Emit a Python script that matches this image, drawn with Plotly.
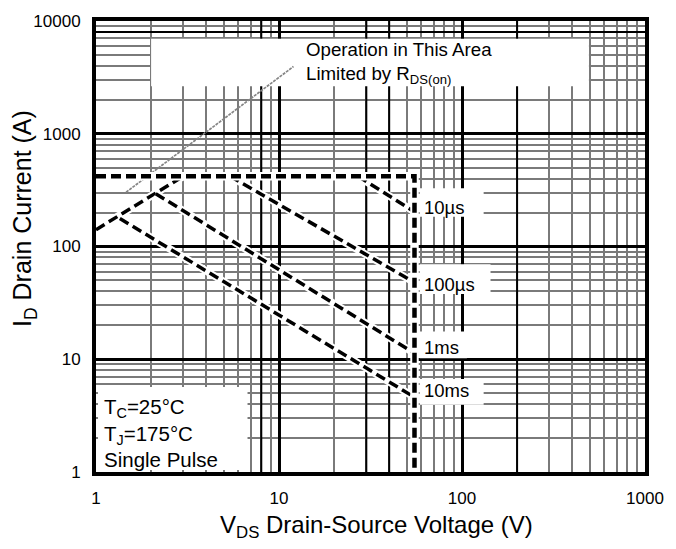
import math
import plotly.graph_objects as go

# ---- data: pulsed safe operating area (V_DS in V, I_D in A) ----
limit_vds = [1, 55, 55]
limit_id = [420, 420, 1]

rds_vds = [1, 3.0]
rds_id = [141, 420]

pulse_labels = ["10µs", "100µs", "1ms", "10ms"]
pulse_vds = [[27, 55], [5.4, 55], [2.12, 55], [1.35, 55]]
pulse_id = [[420, 203], [420, 48], [294, 11.3], [177, 4.6]]

rdson_note_vds = [1.46, 12]
rdson_note_id = [303, 3950]

x_tick_vals = [1, 10, 100, 1000]
y_tick_vals = [1, 10, 100, 1000, 10000]

# ---- geometry helpers ----
W, H = 676, 549
L, R, T, B = 96, 654, 16, 472
X_LOG = (0, 3)
Y_LOG = (0, 4)


def xv(px):
    """pixel column -> voltage value"""
    return 10 ** (X_LOG[0] + (px - L) / (R - L) * (X_LOG[1] - X_LOG[0]))


def yv(py):
    """pixel row -> current value"""
    return 10 ** (Y_LOG[0] + (B - py) / (B - T) * (Y_LOG[1] - Y_LOG[0]))


def px_x(px):
    return (px - L) / (R - L)


def px_y(py):
    return (B - py) / (B - T)


FONT = "Arial, Liberation Sans, sans-serif"
fig = go.Figure()

# thin grey R_DS(on) reference line
fig.add_trace(go.Scatter(x=rdson_note_vds, y=rdson_note_id, mode="lines",
                         line=dict(color="#858585", width=1.7, dash="3px,1px"),
                         hoverinfo="skip", showlegend=False))

DASH = "10px,5px"


def dashed(xs, ys, width=3.5):
    fig.add_trace(go.Scatter(x=xs, y=ys, mode="lines",
                             line=dict(color="white", width=width + 4),
                             hoverinfo="skip", showlegend=False))
    fig.add_trace(go.Scatter(x=xs, y=ys, mode="lines",
                             line=dict(color="black", width=width, dash=DASH),
                             hoverinfo="skip", showlegend=False))


dashed(rds_vds, rds_id)
for xs, ys in zip(pulse_vds, pulse_id):
    dashed(xs, ys)
dashed(limit_vds, limit_id, width=4.5)

# ---- grid decoration: a few darker minor lines, then white label panels ----
shapes = []
for v in [8, 30, 40, 200]:
    shapes.append(dict(type="line", xref="x", yref="y", x0=v, x1=v, y0=1, y1=10000,
                       line=dict(color="black", width=2), layer="between"))
shapes.append(dict(type="line", xref="x", yref="y", x0=1, x1=1000, y0=8000, y1=8000,
                   line=dict(color="black", width=2), layer="between"))

panels = [
    (152, 34, 597, 82),
    (425, 185, 490, 214),
    (425, 262, 497, 292),
    (425, 330, 473, 357),
    (425, 378, 490, 404),
    (98, 386, 250, 470),
]
for x0, y0, x1, y1 in panels:
    shapes.append(dict(type="rect", xref="x", yref="y",
                       x0=xv(x0), x1=xv(x1), y0=yv(y1), y1=yv(y0),
                       fillcolor="white", line=dict(width=0), layer="between"))

# ---- text ----
annotations = []
annotations.append(dict(
    xref="paper", yref="paper", x=px_x(307), y=px_y(58),
    xanchor="left", yanchor="middle", align="left", showarrow=False,
    text="Operation in This Area<br>Limited by R<sub>DS(on)</sub>",
    font=dict(family=FONT, size=18.7, color="black")))

label_shift = [4, -2, 6, 7]
for lab, ys, dy in zip(pulse_labels, pulse_id, label_shift):
    annotations.append(dict(
        xref="x", yref="y", x=math.log10(55), y=math.log10(ys[-1]),
        xanchor="left", yanchor="middle", xshift=8, yshift=dy, showarrow=False,
        text=lab, font=dict(family=FONT, size=18.5, color="black")))

annotations.append(dict(
    xref="paper", yref="paper", x=px_x(102), y=px_y(433),
    xanchor="left", yanchor="middle", align="left", showarrow=False,
    text="T<sub>C</sub>=25°C<br>T<sub>J</sub>=175°C<br>Single Pulse",
    font=dict(family=FONT, size=20.5, color="black")))

# axis titles
annotations.append(dict(
    xref="paper", yref="paper", x=px_x(381), y=px_y(527),
    xanchor="center", yanchor="middle", showarrow=False,
    text="V<sub>DS</sub> Drain-Source Voltage (V)",
    font=dict(family=FONT, size=24, color="black")))
annotations.append(dict(
    xref="paper", yref="paper", x=px_x(23), y=px_y(216),
    xanchor="center", yanchor="middle", textangle=-90, showarrow=False,
    text="I<sub>D</sub> Drain Current (A)",
    font=dict(family=FONT, size=25, color="black")))

minor_x = [k * 10 ** d for d in range(0, 3) for k in range(2, 10)]
minor_y = [k * 10 ** d for d in range(0, 4) for k in range(2, 10)]

fig.update_layout(
    width=W, height=H,
    margin=dict(l=L, r=W - R, t=T, b=H - B),
    paper_bgcolor="white", plot_bgcolor="white",
    showlegend=False,
    shapes=shapes, annotations=annotations,
    xaxis=dict(type="log", range=list(X_LOG), tickvals=x_tick_vals,
               ticktext=[str(v) for v in x_tick_vals],
               ticks="outside", ticklen=8, tickcolor="rgba(0,0,0,0)",
               tickfont=dict(family=FONT, size=17, color="black"),
               showgrid=True, gridcolor="black", gridwidth=3,
               minor=dict(tickvals=minor_x, showgrid=True, gridcolor="#7a7a7a", gridwidth=1.5, ticks=""),
               showline=True, linecolor="black", linewidth=4, mirror=True,
               zeroline=False, fixedrange=True),
    yaxis=dict(type="log", range=list(Y_LOG), tickvals=y_tick_vals,
               ticktext=[str(v) for v in y_tick_vals],
               ticks="outside", ticklen=8, tickcolor="rgba(0,0,0,0)",
               tickfont=dict(family=FONT, size=17, color="black"),
               showgrid=True, gridcolor="black", gridwidth=3,
               minor=dict(tickvals=minor_y, showgrid=True, gridcolor="#7a7a7a", gridwidth=1.5, ticks=""),
               showline=True, linecolor="black", linewidth=4, mirror=True,
               zeroline=False, fixedrange=True),
)

fig.write_html("out.html")
